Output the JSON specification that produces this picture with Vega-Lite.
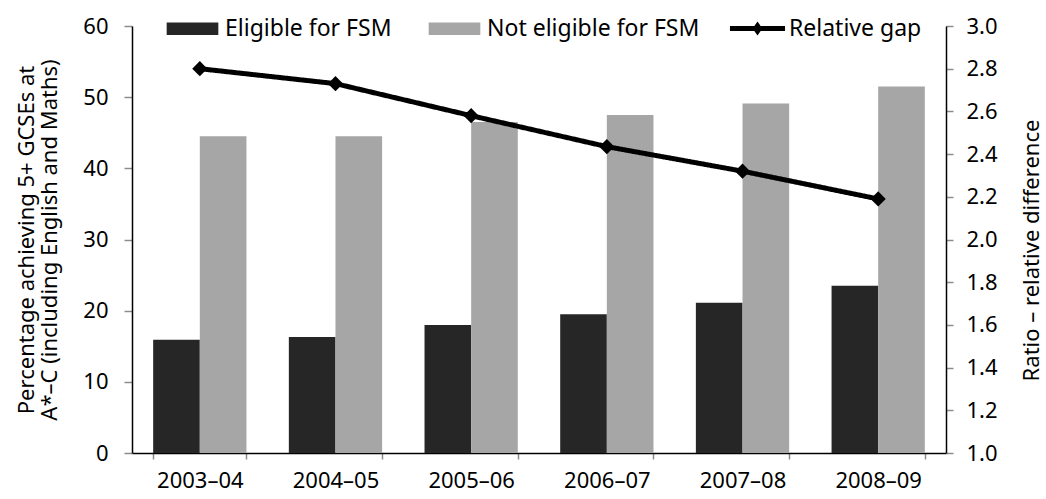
{
  "$schema": "https://vega.github.io/schema/vega-lite/v6.json",
  "width": 814,
  "height": 427,
  "autosize": {"type": "none"},
  "padding": {"left": 132, "top": 26, "right": 100, "bottom": 46},
  "background": "white",
  "config": {
    "font": "Noto Sans",
    "view": {"stroke": null},
    "axis": {
      "labelFont": "Noto Sans",
      "titleFont": "Noto Sans",
      "labelFontSize": 22,
      "titleFontSize": 22,
      "labelColor": "#000",
      "titleColor": "#000",
      "titleFontWeight": "normal",
      "grid": false,
      "domainColor": "#000",
      "domainWidth": 1.5,
      "tickColor": "#8c8c8c",
      "tickWidth": 1.5
    },
    "legend": {
      "labelFont": "Noto Sans",
      "labelFontSize": 23,
      "labelColor": "#000",
      "labelLimit": 0
    }
  },
  "data": {
    "values": [
      {"year": "2003–04", "series": "Eligible for FSM", "pct": 15.9},
      {"year": "2003–04", "series": "Not eligible for FSM", "pct": 44.5},
      {"year": "2004–05", "series": "Eligible for FSM", "pct": 16.3},
      {"year": "2004–05", "series": "Not eligible for FSM", "pct": 44.5},
      {"year": "2005–06", "series": "Eligible for FSM", "pct": 18.0},
      {"year": "2005–06", "series": "Not eligible for FSM", "pct": 46.5},
      {"year": "2006–07", "series": "Eligible for FSM", "pct": 19.5},
      {"year": "2006–07", "series": "Not eligible for FSM", "pct": 47.5},
      {"year": "2007–08", "series": "Eligible for FSM", "pct": 21.1},
      {"year": "2007–08", "series": "Not eligible for FSM", "pct": 49.1},
      {"year": "2008–09", "series": "Eligible for FSM", "pct": 23.5},
      {"year": "2008–09", "series": "Not eligible for FSM", "pct": 51.5}
    ]
  },
  "layer": [
    {
      "mark": {"type": "bar"},
      "encoding": {
        "x": {
          "field": "year",
          "type": "nominal",
          "sort": null,
          "scale": {"paddingInner": 0.3125, "paddingOuter": 0.156},
          "axis": {
            "title": null,
            "labelAngle": 0,
            "tickBand": "extent",
            "tickSize": 6,
            "labelPadding": 11
          }
        },
        "xOffset": {
          "field": "series",
          "sort": ["Eligible for FSM", "Not eligible for FSM"]
        },
        "y": {
          "field": "pct",
          "type": "quantitative",
          "scale": {"domain": [0, 60]},
          "axis": {
            "orient": "left",
            "values": [0, 10, 20, 30, 40, 50, 60],
            "tickSize": 8,
            "labelPadding": 16,
            "title": ["Percentage achieving 5+ GCSEs at", "A*–C (including English and Maths)"],
            "titlePadding": 21,
            "titleLineHeight": 23
          }
        },
        "color": {
          "field": "series",
          "scale": {
            "domain": ["Eligible for FSM", "Not eligible for FSM"],
            "range": ["#262626", "#a6a6a6"]
          },
          "legend": {
            "title": null,
            "orient": "none",
            "legendX": 48,
            "legendY": -10,
            "direction": "horizontal",
            "symbolType": "M-2.1,-0.5H2.1V0.5H-2.1Z",
            "symbolSize": 605,
            "symbolStrokeWidth": 0,
            "labelOffset": 20,
            "columnPadding": 36
          }
        }
      }
    },
    {
      "data": {
        "values": [
          {"year": "2003–04", "gap": 2.80},
          {"year": "2004–05", "gap": 2.73},
          {"year": "2005–06", "gap": 2.58},
          {"year": "2006–07", "gap": 2.435},
          {"year": "2007–08", "gap": 2.32},
          {"year": "2008–09", "gap": 2.19}
        ]
      },
      "mark": {
        "type": "line",
        "color": "black",
        "strokeWidth": 5,
        "point": {"shape": "diamond", "size": 230, "filled": true, "color": "black"}
      },
      "encoding": {
        "x": {"field": "year", "type": "nominal", "sort": null},
        "y": {
          "field": "gap",
          "type": "quantitative",
          "scale": {"domain": [1, 3]},
          "axis": {
            "orient": "right",
            "values": [1, 1.2, 1.4, 1.6, 1.8, 2, 2.2, 2.4, 2.6, 2.8, 3],
            "format": ".1f",
            "tickSize": 7,
            "labelPadding": 13,
            "title": "Ratio – relative difference",
            "titleAngle": 270,
            "titlePadding": 46,
            "titleY": 224
          }
        },
        "strokeDash": {
          "datum": "Relative gap",
          "scale": {"range": [[1, 0]]},
          "legend": {
            "title": null,
            "orient": "none",
            "legendX": 613,
            "legendY": -10,
            "symbolType": "M-2.24,-0.2H2.24V0.2H-2.24Z M0,-0.57L0.4,0L0,0.57L-0.4,0Z",
            "symbolSize": 605,
            "symbolFillColor": "black",
            "symbolStrokeWidth": 0,
            "labelOffset": 19
          }
        }
      }
    }
  ],
  "resolve": {"scale": {"y": "independent"}}
}
